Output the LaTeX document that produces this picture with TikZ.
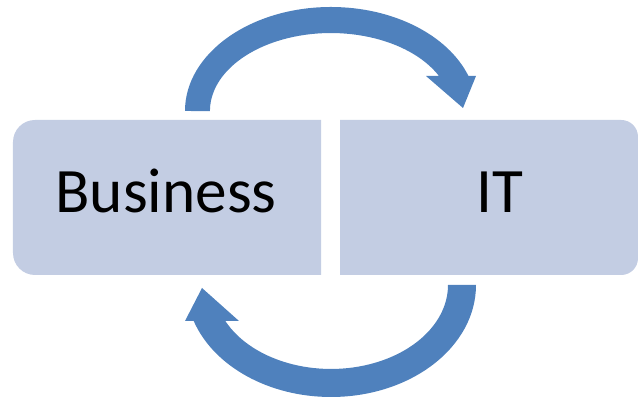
\documentclass[tikz,border=0pt]{standalone}
\usepackage{fontspec}
\setmainfont{Carlito}
\definecolor{boxblue}{RGB}{195,205,227}
\definecolor{arrowblue}{RGB}{79,129,189}

\begin{document}
\begin{tikzpicture}[
    panel/.style={fill=boxblue},
    looparrow/.style={fill=arrowblue},
    boxtext/.style={anchor=base, font=\fontsize{45}{54}\selectfont}
]
        \useasboundingbox (0,0) rectangle (15.95,10);

        % Business box (rounded on the left)
        \fill[panel, rounded corners=0.55cm] (8.025,7) -- (0.325,7) -- (0.325,3.125) -- (8.025,3.125);
        \node[boxtext] (biz) at (4.15,4.675) {Business};

        % IT box (rounded on the right)
        \fill[panel, rounded corners=0.42cm] (8.5,3.125) -- (15.95,3.125) -- (15.95,7) -- (8.5,7);
        \node[boxtext] (it) at (12.49,4.675) {IT};

        % Top arrow: Business to IT
        \fill[looparrow] (4.625,7.225)
            arc[start angle=180, end angle=19.7, x radius=3.65, y radius=2.6]
            -- (11.9,8.1) -- (11.575,7.3) -- (10.65,8.1) -- (10.975,8.1)
            arc[start angle=26.7, end angle=180, x radius=3.025, y radius=1.95]
            -- cycle;

        % Bottom arrow: IT back to Business
        \fill[looparrow] (11.9,2.875)
            arc[start angle=0, end angle=-161.3, x radius=3.625, y radius=2.8]
            -- (4.625,1.975) -- (5.05,2.8) -- (5.975,1.975) -- (5.633,1.975)
            arc[start angle=-154.6, end angle=0, x radius=2.925, y radius=2.1]
            -- cycle;

\end{tikzpicture}
\end{document}
